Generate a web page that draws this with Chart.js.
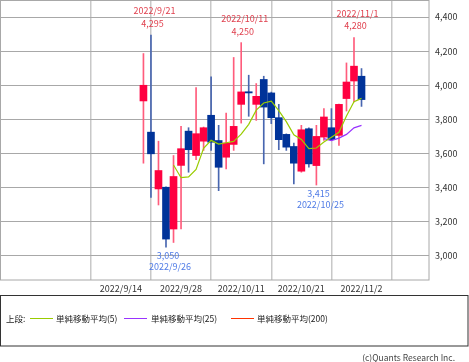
<!DOCTYPE html>
<html>
<head>
<meta charset="utf-8">
<script src="https://cdn.jsdelivr.net/npm/chart.js@4.4.0/dist/chart.umd.min.js"></script>
<style>
html,body{margin:0;padding:0;background:#fff}
canvas{display:block}
</style>
</head>
<body>
<canvas id="chart" width="469" height="362"></canvas>
<script>
// Trading days (the first three have no prices yet)
const dates = ['2022/9/14','2022/9/15','2022/9/16','2022/9/20','2022/9/21','2022/9/22','2022/9/26','2022/9/27',
  '2022/9/28','2022/9/29','2022/9/30','2022/10/3','2022/10/4','2022/10/5','2022/10/6','2022/10/7',
  '2022/10/11','2022/10/12','2022/10/13','2022/10/14','2022/10/17','2022/10/18','2022/10/19','2022/10/20',
  '2022/10/21','2022/10/24','2022/10/25','2022/10/26','2022/10/27','2022/10/28','2022/10/31','2022/11/1','2022/11/2'];

const openP  = [null,null,null,3908,3725,3392,3402,3157,3530,3731,3588,3672,3824,3676,3578,3653,3888,3962,3888,4034,3955,3810,3712,3641,3496,3745,3529,3696,3751,3706,3922,4025,4053];
const highP  = [null,null,null,4186,4295,3672,3405,3588,3759,3751,3986,3755,4049,3765,3837,4163,4250,4059,4010,4053,3960,3888,3715,3661,3765,3751,3765,3863,3863,3890,4131,4280,4098];
const lowP   = [null,null,null,3543,3343,3298,3050,3078,3157,3490,3563,3618,3618,3382,3510,3618,3778,3818,3794,3539,3775,3622,3618,3422,3490,3519,3415,3676,3676,3647,3849,3902,3876];
const closeP = [null,null,null,4000,3598,3500,3098,3465,3628,3622,3716,3751,3666,3519,3661,3759,3961,3955,3935,3872,3810,3681,3637,3543,3739,3539,3700,3814,3681,3888,4019,4112,3916];

const sma5   = [null,null,null,null,null,null,null,3532,3458,3463,3506,3630,3677,3655,3663,3671,3713,3771,3854,3896,3907,3851,3787,3709,3682,3628,3632,3667,3695,3724,3820,3903,3923];
const sma25  = [null,null,null,null,null,null,null,null,null,null,null,null,null,null,null,null,null,null,null,null,null,null,null,null,null,null,null,3687,3676,3690,3712,3750,3765];
const sma200 = dates.map(() => null);

const xTickLabels = ['2022/9/14','2022/9/28','2022/10/11','2022/10/21','2022/11/2'];
const yTicks = [3000,3200,3400,3600,3800,4000,4200,4400];
const highMarks = ['2022/9/21','2022/10/11','2022/11/1'];
const lowMarks = ['2022/9/26','2022/10/25'];

const UP = '#ff0040', DOWN = '#003399';
const UP_WICK = '#ff5c7c', DOWN_WICK = '#4866b0';
const FONT = '"Noto Sans CJK JP", "Liberation Sans", sans-serif';

const idx = dates.map((d, i) => i).filter(i => openP[i] !== null);
const isUp = i => closeP[i] >= openP[i];

const bodies = idx.map(i => ({ x: i, y: [openP[i], closeP[i]] }));
const wicks = idx.map(i => ({ x: i, y: [lowP[i], highP[i]] }));
const line = arr => arr.map((v, i) => ({ x: i, y: v }));

// frame, annotations, legend box and credit
const extras = {
  id: 'extras',
  afterDraw(chart) {
    const { ctx, chartArea: a, scales: { x, y } } = chart;
    ctx.save();
    ctx.strokeStyle = '#a8a8a8';
    ctx.lineWidth = 1;
    ctx.strokeRect(a.left + 0.5, a.top + 0.5, a.right - a.left - 0.5, a.bottom - a.top - 0.5);

    ctx.font = '9px ' + FONT;
    ctx.textAlign = 'center';
    ctx.textBaseline = 'middle';
    ctx.fillStyle = '#e0404e';
    highMarks.forEach(d => {
      const i = dates.indexOf(d);
      const px = x.getPixelForValue(i), py = y.getPixelForValue(highP[i]);
      ctx.fillText(d, px + 3.5, py - 24);
      ctx.fillText(highP[i].toLocaleString('en-US'), px + 1.5, py - 11.5);
    });
    ctx.fillStyle = '#4f7be6';
    lowMarks.forEach(d => {
      const i = dates.indexOf(d);
      const px = x.getPixelForValue(i), py = y.getPixelForValue(lowP[i]);
      ctx.fillText(lowP[i].toLocaleString('en-US'), px + 2, py + 8.5);
      ctx.fillText(d, px + 4, py + 19.5);
    });

    // legend box
    ctx.strokeStyle = '#333';
    ctx.strokeRect(0.5, 295.5, 467.5, 50.5);
    ctx.font = '8.5px ' + FONT;
    ctx.textAlign = 'left';
    ctx.fillStyle = '#222';
    ctx.fillText('上段:', 6, 318.5);
    const spots = [[30, 56], [124, 151], [231, 257]];
    chart.data.datasets.filter(ds => ds.type === 'line').forEach((ds, k) => {
      const [lx, tx] = spots[k];
      ctx.strokeStyle = ds.borderColor;
      ctx.lineWidth = 1;
      ctx.beginPath();
      ctx.moveTo(lx, 318.5);
      ctx.lineTo(lx + 23, 318.5);
      ctx.stroke();
      ctx.fillText(ds.label, tx, 318.5);
    });

    ctx.fillStyle = '#444';
    ctx.textAlign = 'right';
    ctx.fillText('(c)Quants Research Inc.', 455, 357.5);
    ctx.restore();
  }
};

new Chart(document.getElementById('chart'), {
  data: {
    datasets: [
      { type: 'line', label: '単純移動平均(5)', data: line(sma5), borderColor: '#99cc00', borderWidth: 1.2, pointRadius: 0, order: -1 },
      { type: 'line', label: '単純移動平均(25)', data: line(sma25), borderColor: '#9933ff', borderWidth: 1.2, pointRadius: 0, order: -1 },
      { type: 'line', label: '単純移動平均(200)', data: line(sma200), borderColor: '#ff3300', borderWidth: 1.2, pointRadius: 0, order: -1 },
      { type: 'bar', label: 'body', data: bodies, grouped: false, barThickness: 7, borderWidth: 0,
        backgroundColor: idx.map(i => isUp(i) ? UP : DOWN), order: 0 },
      { type: 'bar', label: 'wick', data: wicks, grouped: false, barThickness: 1, borderWidth: 0,
        backgroundColor: idx.map(i => isUp(i) ? UP_WICK : DOWN_WICK), order: 1 }
    ]
  },
  options: {
    responsive: false,
    animation: false,
    devicePixelRatio: 1,
    layout: { padding: { left: 0, top: 0, right: 0, bottom: 66 } },
    plugins: { legend: { display: false }, tooltip: { enabled: false } },
    scales: {
      x: {
        type: 'linear',
        min: -10.37,
        max: 35.27,
        afterBuildTicks: s => { s.ticks = xTickLabels.map(l => ({ value: dates.indexOf(l) })); },
        afterFit: s => { s.height = 16; s.paddingLeft = 0; s.paddingRight = 0; },
        grid: { color: '#c8c8c8', lineWidth: 1.5, drawTicks: false },
        border: { display: false },
        ticks: { autoSkip: false, maxRotation: 0, padding: 3, color: '#333', font: { size: 9, family: FONT },
          callback: v => dates[v] }
      },
      y: {
        position: 'right',
        min: 2858,
        max: 4500,
        afterBuildTicks: s => { s.ticks = yTicks.map(v => ({ value: v })); },
        afterFit: s => { s.width = 40; s.paddingTop = 0; s.paddingBottom = 0; },
        grid: { color: '#a8a8a8', lineWidth: 1, drawTicks: false },
        border: { display: false },
        ticks: { padding: 6, color: '#333', font: { size: 9, family: FONT },
          callback: v => v.toLocaleString('en-US') }
      }
    }
  },
  plugins: [extras]
});
</script>
</body>
</html>
